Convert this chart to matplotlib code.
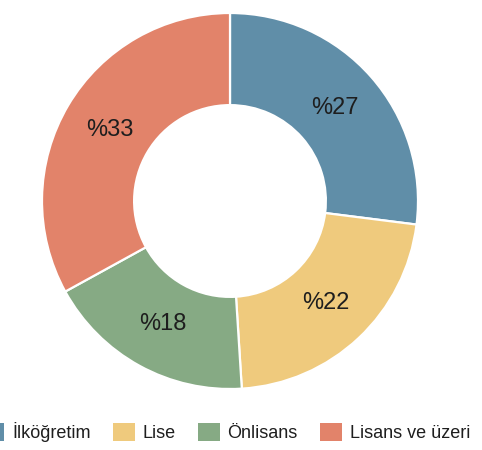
import matplotlib
matplotlib.use("Agg")
import matplotlib.pyplot as plt
from matplotlib.patches import Patch

categories = ["İlköğretim", "Lise", "Önlisans", "Lisans ve üzeri"]
values = [27, 22, 18, 33]
labels = ["%27", "%22", "%18", "%33"]
colors = ["#608ea8", "#efca7d", "#86aa84", "#e2836a"]

FONT = ["Liberation Sans", "DejaVu Sans"]
plt.rcParams["font.family"] = FONT

W, H = 482, 450
fig = plt.figure(figsize=(W / 100, H / 100), dpi=100)
cx, cy, r = 230, 201, 188
ax = fig.add_axes([(cx - r) / W, (H - cy - r) / H, 2 * r / W, 2 * r / H])

wedges, texts = ax.pie(
    values,
    labels=labels,
    colors=colors,
    startangle=90,
    counterclock=False,
    labeldistance=0.745,
    radius=1.0,
    wedgeprops=dict(width=0.49, edgecolor="white", linewidth=1.6),
    textprops=dict(fontsize=17, color="#1e1e1e", ha="center", va="center"),
)
ax.set_xlim(-1, 1)
ax.set_ylim(-1, 1)
ax.set_aspect("equal")
ax.axis("off")

fs = 13
px = fs * 100 / 72
handles = [Patch(facecolor=c, edgecolor="none") for c in colors]
leg = fig.legend(
    handles,
    categories,
    loc="center left",
    bbox_to_anchor=(-18 / W, 1 - 432 / H),
    ncol=4,
    frameon=False,
    fontsize=fs,
    handlelength=22 / px,
    handleheight=22 / px,
    handletextpad=8 / px,
    columnspacing=22 / px,
    borderaxespad=0,
    borderpad=0,
)
for t in leg.get_texts():
    t.set_color("#1e1e1e")

fig.savefig("out.png", dpi=100)
